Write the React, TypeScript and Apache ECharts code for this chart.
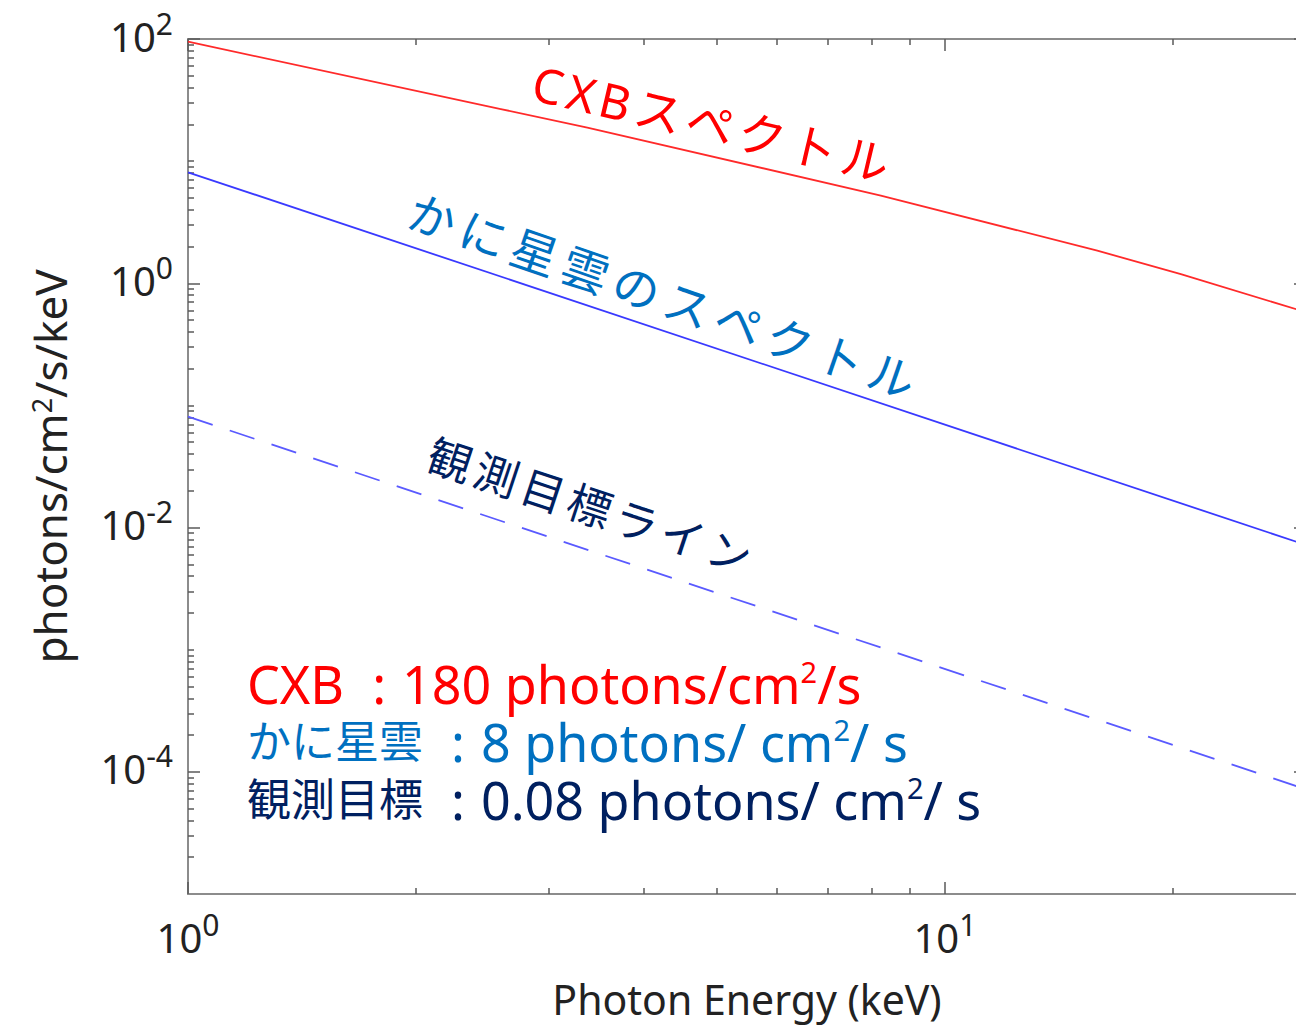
import React, { useEffect, useRef } from "react";
import * as echarts from "echarts";

// Spectra (photon energy in keV, flux in photons/cm^2/s/keV)
const cxbEnergy = [1, 2.59, 3.37, 8.23, 15.9, 20.5, 29.2, 30];
const cxbFlux = [95, 26.7, 18.8, 5.23, 1.85, 1.19, 0.61, 0.58];
const crabEnergy = [1, 30];
const crabFlux = [8.1, 0.0072];
const targetEnergy = [1, 30];
const targetFlux = [0.081, 0.000072];

// Axis ranges and ticks
const energyRange = [1, 30];
const fluxRange = [1e-5, 100];
const energyMajorTicks = [1, 10];
const energyMinorTicks = [2, 3, 4, 5, 6, 7, 8, 9, 20];
const fluxMajorTicks = [1e-4, 1e-2, 1, 100];
const fluxDecades = [-5, -4, -3, -2, -1, 0, 1];
const minorMultipliers = [1, 2, 3, 4, 5, 6, 7, 8, 9];

// Text
const xTitle = "Photon Energy (keV)";
const yTitleParts = ["photons/cm", "2", "/s/keV"];
const lineLabels = [
  { text: "CXBスペクトル", color: "#ff0000", x: 531, y: 81, angle: 13.2, size: 48, spacing: 5 },
  { text: "かに星雲のスペクトル", color: "#0070c0", x: 407, y: 208, angle: 19.1, size: 47, spacing: 7 },
  { text: "観測目標ライン", color: "#002060", x: 427, y: 452, angle: 18.3, size: 44, spacing: 5 },
];
const legendRows = [
  { name: "CXB", cjk: false, value: "180 photons/cm", tail: "/s", color: "#ff0000", y: 683 },
  { name: "かに星雲", cjk: true, value: "8 photons/ cm", tail: "/ s", color: "#0070c0", y: 741 },
  { name: "観測目標", cjk: true, value: "0.08 photons/ cm", tail: "/ s", color: "#002060", y: 799 },
];

const FONT = "'Noto Sans', 'Noto Sans CJK JP', sans-serif";
const AXIS_GRAY = "#8c8c8c";
const TICK_COLOR = "#5a5a5a";
const TEXT_COLOR = "#222222";

const lg = (v: number) => Math.log10(v);
const toPoints = (xs: number[], ys: number[]) => xs.map((x, i) => [lg(x), lg(ys[i])]);

// Minor ticks at 1..9 x 10^n, leaving out the labelled decades and the bottom edge
const fluxMinorTicks: number[] = [];
fluxDecades.forEach((d) => {
  minorMultipliers.forEach((m) => {
    if (m === 1 && (fluxMajorTicks.some((t) => lg(t) === d) || d === fluxDecades[0])) return;
    fluxMinorTicks.push(m * Math.pow(10, d));
  });
});

const powRich = {
  b: { fontSize: 40, fontFamily: FONT, color: TEXT_COLOR, lineHeight: 56 },
  s: { fontSize: 30, fontFamily: FONT, color: TEXT_COLOR, lineHeight: 32, verticalAlign: "top" },
};
const powLabel = (v: number) => `{b|10}{s|${Math.round(v)}}`;

function tickAxis(
  position: string,
  ticks: number[],
  len: number,
  range: number[],
  withLine: boolean,
  extra: any = {}
) {
  return {
    type: "value",
    position,
    min: lg(range[0]),
    max: lg(range[1]),
    axisLine: { show: withLine, onZero: false, lineStyle: { color: AXIS_GRAY, width: 2 } },
    axisTick: {
      show: true,
      inside: true,
      length: len,
      customValues: ticks.map(lg),
      lineStyle: { color: TICK_COLOR, width: 1.5 },
    },
    axisLabel: { show: false },
    splitLine: { show: false },
    minorTick: { show: false },
    ...extra,
  };
}

function spacedText(l: (typeof lineLabels)[number]) {
  return {
    type: "text",
    x: l.x,
    y: l.y,
    rotation: (-l.angle * Math.PI) / 180,
    silent: true,
    style: {
      text: Array.from(l.text)
        .map((c) => `{k|${c}}`)
        .join(""),
      align: "left",
      verticalAlign: "middle",
      fill: l.color,
      fontSize: l.size,
      fontFamily: FONT,
      rich: {
        k: {
          fill: l.color,
          fontSize: l.size,
          fontFamily: FONT,
          padding: [0, l.spacing / 2, 0, l.spacing / 2],
        },
      },
    },
  };
}

function legendText(r: (typeof legendRows)[number]) {
  return {
    type: "text",
    x: 247,
    y: r.y,
    silent: true,
    style: {
      text: `{n|${r.name}}{c|:}{v|${r.value}}{s|2}{v|${r.tail}}`,
      align: "left",
      verticalAlign: "middle",
      fill: r.color,
      fontFamily: FONT,
      fontSize: 52,
      rich: {
        n: { fill: r.color, fontFamily: FONT, fontSize: r.cjk ? 44 : 52 },
        c: { fill: r.color, fontFamily: FONT, fontSize: 52, padding: [0, 16, 0, 28] },
        v: { fill: r.color, fontFamily: FONT, fontSize: 52 },
        s: { fill: r.color, fontFamily: FONT, fontSize: 29, verticalAlign: "top" },
      },
    },
  };
}

const option: any = {
  animation: false,
  backgroundColor: "#ffffff",
  grid: { left: 188, top: 39, width: 1118, height: 855, show: false, outerBoundsMode: "none" },
  xAxis: [
    tickAxis("bottom", energyMajorTicks, 12, energyRange, true, {
      axisLabel: {
        show: true,
        customValues: energyMajorTicks.map(lg),
        formatter: powLabel,
        rich: powRich,
        margin: 15,
        showMinLabel: true,
        showMaxLabel: true,
      },
      name: xTitle,
      nameLocation: "middle",
      nameGap: 84,
      nameTextStyle: { fontSize: 41, fontFamily: FONT, color: TEXT_COLOR },
    }),
    tickAxis("bottom", energyMinorTicks, 6, energyRange, false),
    tickAxis("top", energyMajorTicks, 12, energyRange, true),
    tickAxis("top", energyMinorTicks, 6, energyRange, false),
  ],
  yAxis: [
    tickAxis("left", fluxMajorTicks, 12, fluxRange, true, {
      axisLabel: {
        show: true,
        customValues: fluxMajorTicks.map(lg),
        formatter: powLabel,
        rich: powRich,
        margin: 15,
        padding: [0, 0, 6, 0],
        showMinLabel: true,
        showMaxLabel: true,
      },
      name: `${yTitleParts[0]}{s|${yTitleParts[1]}}${yTitleParts[2]}`,
      nameLocation: "middle",
      nameGap: 116,
      nameTextStyle: {
        fontSize: 44,
        fontFamily: FONT,
        color: TEXT_COLOR,
        rich: { s: { fontSize: 27, fontFamily: FONT, color: TEXT_COLOR, verticalAlign: "top" } },
      },
    }),
    tickAxis("left", fluxMinorTicks, 6, fluxRange, false),
    tickAxis("right", fluxMajorTicks, 12, fluxRange, true),
    tickAxis("right", fluxMinorTicks, 6, fluxRange, false),
  ],
  series: [
    {
      name: "CXB",
      type: "line",
      data: toPoints(cxbEnergy, cxbFlux),
      showSymbol: false,
      silent: true,
      lineStyle: { color: "#ff2a2a", width: 1.8 },
    },
    {
      name: "Crab",
      type: "line",
      data: toPoints(crabEnergy, crabFlux),
      showSymbol: false,
      silent: true,
      lineStyle: { color: "#3a3aff", width: 1.8 },
    },
    {
      name: "Target",
      type: "line",
      data: toPoints(targetEnergy, targetFlux),
      showSymbol: false,
      silent: true,
      lineStyle: { color: "#5a5aff", width: 1.8, type: [26, 18] },
    },
  ],
  graphic: [...lineLabels.map(spacedText), ...legendRows.map(legendText)],
};

export default function App() {
  const ref = useRef<HTMLDivElement>(null);
  useEffect(() => {
    if (!ref.current) return;
    const chart = echarts.init(ref.current, undefined, { renderer: "svg" });
    chart.setOption(option);
    return () => chart.dispose();
  }, []);
  return (
    <div
      ref={ref}
      style={{ position: "absolute", left: 0, top: 0, width: 1296, height: 1026, background: "#fff" }}
    />
  );
}
